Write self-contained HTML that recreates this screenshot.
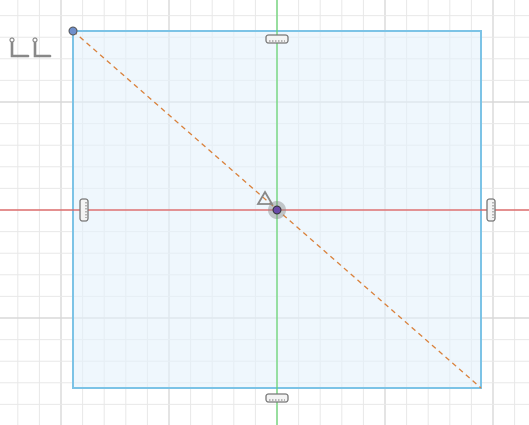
<!DOCTYPE html>
<html><head><meta charset="utf-8"><style>
html,body{margin:0;padding:0;background:#fff;}
svg{display:block;}
</style></head><body>
<svg id="c" width="529" height="425" viewBox="0 0 529 425" xmlns="http://www.w3.org/2000/svg">
<g id="grid"></g>
<rect x="73" y="31" width="408" height="357" fill="#e4f2fb" fill-opacity="0.6" stroke="#7cc3e6" stroke-width="2"/>
<line x1="0" y1="210" x2="529" y2="210" stroke="#e05a5a" stroke-width="1.2"/>
<line x1="277" y1="0" x2="277" y2="425" stroke="#5fd36a" stroke-width="1.2"/>
<line x1="73" y1="31" x2="481" y2="388" stroke="#d9803a" stroke-width="1.3" stroke-dasharray="5,4"/>
<g><rect x="266" y="35" width="22" height="8" rx="2.5" fill="#f4f4f4" stroke="#777" stroke-width="1.3"/><line x1="269" y1="41" x2="285" y2="41" stroke="#777" stroke-dasharray="1.5,1.5"/></g>
<g><rect x="266" y="394" width="22" height="8" rx="2.5" fill="#f4f4f4" stroke="#777" stroke-width="1.3"/><line x1="269" y1="400" x2="285" y2="400" stroke="#777" stroke-dasharray="1.5,1.5"/></g>
<g><rect x="80" y="199" width="8" height="22" rx="2.5" fill="#f4f4f4" stroke="#777" stroke-width="1.3"/><line x1="86" y1="202" x2="86" y2="218" stroke="#777" stroke-dasharray="1.5,1.5"/></g>
<g><rect x="487" y="199" width="8" height="22" rx="2.5" fill="#f4f4f4" stroke="#777" stroke-width="1.3"/><line x1="493" y1="202" x2="493" y2="218" stroke="#777" stroke-dasharray="1.5,1.5"/></g>
<g fill="none" stroke="#888" stroke-width="2.6" stroke-linecap="round">
<path d="M12 40 V56 H28"/><path d="M35 40 V56 H50"/>
<circle cx="12" cy="40" r="2" fill="#fff" stroke-width="1.2"/><circle cx="35" cy="40" r="2" fill="#fff" stroke-width="1.2"/>
</g>
<path d="M265 192 L272 204 H258 Z" fill="none" stroke="#888" stroke-width="1.8"/>
<circle cx="277" cy="210" r="9" fill="#888" fill-opacity="0.45"/>
<circle cx="277" cy="210" r="4" fill="#6a4aa8" stroke="#333" stroke-width="1"/>
<circle cx="73" cy="31" r="4" fill="#6f8fcc" stroke="#555" stroke-width="1"/>
</svg>
<script>
const gridStep = [21.6];
const majorEvery = [5];
const origin = [277, 210];
const g = document.getElementById('grid');
const ns = 'http://www.w3.org/2000/svg';
for (let i = -15; i <= 15; i++) {
  const x = origin[0] + i * gridStep[0];
  if (x < 0 || x > 529) continue;
  const l = document.createElementNS(ns, 'line');
  l.setAttribute('x1', x); l.setAttribute('x2', x); l.setAttribute('y1', 0); l.setAttribute('y2', 425);
  l.setAttribute('stroke', i % majorEvery[0] === 0 ? '#d8d8d8' : '#e8e8e8');
  l.setAttribute('stroke-width', i % majorEvery[0] === 0 ? 1.4 : 1);
  
  
  g.appendChild(l);
}
for (let i = -15; i <= 15; i++) {
  const y = origin[1] + i * gridStep[0];
  if (y < 0 || y > 425) continue;
  const l = document.createElementNS(ns, 'line');
  l.setAttribute('y1', y); l.setAttribute('y2', y); l.setAttribute('x1', 0); l.setAttribute('x2', 529);
  l.setAttribute('stroke', i % majorEvery[0] === 0 ? '#d8d8d8' : '#e8e8e8');
  l.setAttribute('stroke-width', i % majorEvery[0] === 0 ? 1.4 : 1);
  
  
  g.appendChild(l);
}
</script>
</body></html>
